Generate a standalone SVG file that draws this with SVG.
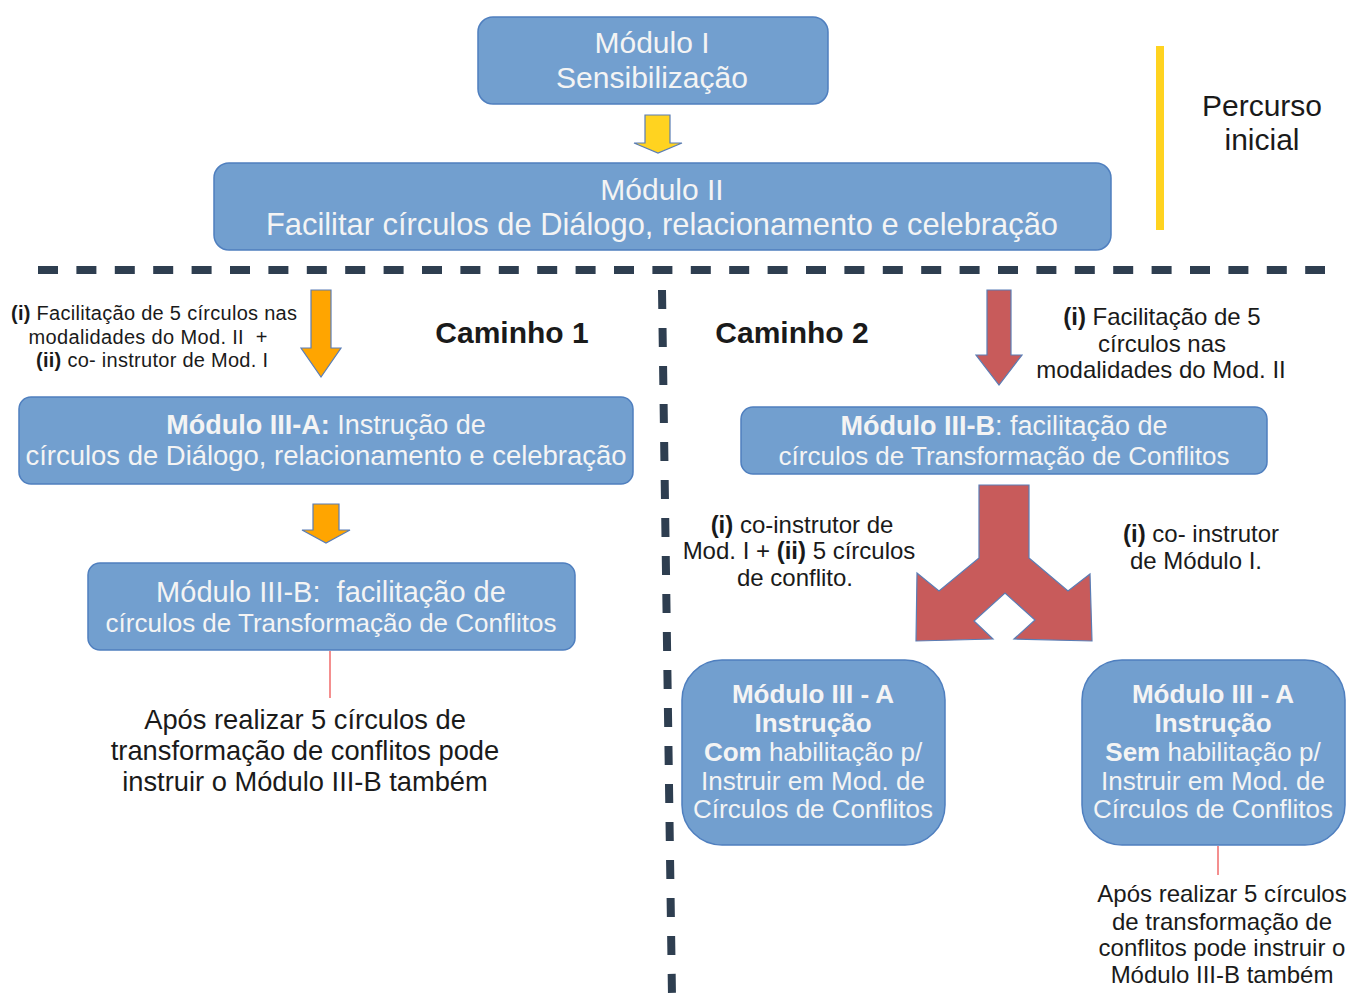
<svg xmlns="http://www.w3.org/2000/svg" width="1351" height="997" viewBox="0 0 1351 997">
<style>
.box{fill:#729fcf;stroke:#4f7fbf;stroke-width:1.5}
.wt{fill:#f4f4f4;font-family:"Liberation Sans",Arial,sans-serif;text-anchor:middle}
.dt{fill:#1a1a1a;font-family:"Liberation Sans",Arial,sans-serif;text-anchor:middle}
.b{font-weight:bold}
.arr{stroke:#5a7db5;stroke-width:1.2}
.dash{stroke:#2e3e50;fill:none}
.thin{stroke:#f06a6a;stroke-width:1.5;fill:none}
</style>
<rect width="1351" height="997" fill="#ffffff"/>

<g id="connectors">
  <line class="dash" x1="38" y1="270" x2="1325" y2="270" stroke-width="8" stroke-dasharray="20 18.4"/>
  <line class="dash" x1="662" y1="290" x2="672" y2="997" stroke-width="8" stroke-dasharray="19 19"/>
  <polygon class="arr" fill="#ffd320" points="645,115 670,115 670,143 682,143 658,153 634,143 645,143"/>
  <polygon class="arr" fill="#ffa500" points="311,290 331,290 331,348 341,348 321,377 301,348 311,348"/>
  <polygon class="arr" fill="#ffa500" points="313,504 339,504 339,530 350,530 326,543 302,530 313,530"/>
  <polygon class="arr" fill="#c85b5b" points="987,290 1011,290 1011,355 1022,355 999,385 976,355 987,355"/>
  <polygon class="arr" fill="#c85b5b" points="979,485 1029,485 1029,558 1068,591 1090,574 1092,641 1014,639 1035,620 1005,593 974,621 993,639 916,641 917,573 939,591 979,558"/>
  <line class="thin" x1="330" y1="651" x2="330" y2="698"/>
  <line class="thin" x1="1218" y1="846" x2="1218" y2="875"/>
</g>

<g id="percurso">
  <line x1="1160" y1="46" x2="1160" y2="230" stroke="#ffd320" stroke-width="8"/>
  <text class="dt" font-size="30" x="1262" y="116">Percurso</text>
  <text class="dt" font-size="30" x="1262" y="150">inicial</text>
</g>

<g id="modulo1">
  <rect class="box" x="478" y="17" width="350" height="87" rx="15"/>
  <text class="wt" font-size="30" x="652" y="53">Módulo I</text>
  <text class="wt" font-size="30" x="652" y="88">Sensibilização</text>
</g>

<g id="modulo2">
  <rect class="box" x="214" y="163" width="897" height="87" rx="15"/>
  <text class="wt" font-size="30" x="662" y="200">Módulo II</text>
  <text class="wt" font-size="30.5" x="662" y="235" textLength="792" lengthAdjust="spacingAndGlyphs">Facilitar círculos de Diálogo, relacionamento e celebração</text>
</g>

<g id="caminho1">
  <text class="dt b" font-size="30" x="512" y="343">Caminho 1</text>
</g>
<g id="caminho2">
  <text class="dt b" font-size="30" x="792" y="343">Caminho 2</text>
</g>

<g id="nota-esq">
  <text class="dt" font-size="20" x="154" y="320" textLength="286"><tspan class="b">(i)</tspan> Facilitação de 5 círculos nas</text>
  <text class="dt" font-size="20" x="148" y="344" textLength="239" xml:space="preserve">modalidades do Mod. II  +</text>
  <text class="dt" font-size="20" x="152" y="367" textLength="232"><tspan class="b">(ii)</tspan> co- instrutor de Mod. I</text>
</g>

<g id="modulo3a-esq">
  <rect class="box" x="19" y="397" width="614" height="87" rx="12"/>
  <text class="wt" font-size="27" x="326" y="434"><tspan class="b">Módulo III-A:</tspan> Instrução de</text>
  <text class="wt" font-size="27.2" x="326" y="465" textLength="601" lengthAdjust="spacingAndGlyphs">círculos de Diálogo, relacionamento e celebração</text>
</g>

<g id="modulo3b-esq">
  <rect class="box" x="88" y="563" width="487" height="87" rx="12"/>
  <text class="wt" font-size="29" x="331" y="602" xml:space="preserve">Módulo III-B:  facilitação de</text>
  <text class="wt" font-size="26" x="331" y="632">círculos de Transformação de Conflitos</text>
</g>

<g id="nota-3b-esq">
  <text class="dt" font-size="27.3" x="305" y="729">Após realizar 5 círculos de</text>
  <text class="dt" font-size="27.3" x="305" y="760">transformação de conflitos pode</text>
  <text class="dt" font-size="27.3" x="305" y="791">instruir o Módulo III-B também</text>
</g>

<g id="nota-dir">
  <text class="dt" font-size="24" x="1162" y="325"><tspan class="b">(i)</tspan> Facilitação de 5</text>
  <text class="dt" font-size="24" x="1162" y="352">círculos nas</text>
  <text class="dt" font-size="24" x="1161" y="378">modalidades do Mod. II</text>
</g>

<g id="modulo3b-dir">
  <rect class="box" x="741" y="407" width="526" height="67" rx="12"/>
  <text class="wt" font-size="27" x="1004" y="435"><tspan class="b">Módulo III-B</tspan>: facilitação de</text>
  <text class="wt" font-size="26" x="1004" y="465">círculos de Transformação de Conflitos</text>
</g>

<g id="nota-com">
  <text class="dt" font-size="24" x="802" y="533"><tspan class="b">(i)</tspan> co-instrutor de</text>
  <text class="dt" font-size="24" x="799" y="559">Mod. I + <tspan class="b">(ii)</tspan> 5 círculos</text>
  <text class="dt" font-size="24" x="795" y="586">de conflito.</text>
</g>

<g id="nota-sem">
  <text class="dt" font-size="24" x="1201" y="542"><tspan class="b">(i)</tspan> co- instrutor</text>
  <text class="dt" font-size="24" x="1196" y="569">de Módulo I.</text>
</g>

<g id="modulo3a-com">
  <rect class="box" x="682" y="660" width="263" height="185" rx="40"/>
  <text class="wt b" font-size="26" x="813" y="703">Módulo III - A</text>
  <text class="wt b" font-size="26" x="813" y="732">Instrução</text>
  <text class="wt" font-size="26" x="813" y="761"><tspan class="b">Com</tspan> habilitação p/</text>
  <text class="wt" font-size="26" x="813" y="790">Instruir em Mod. de</text>
  <text class="wt" font-size="26" x="813" y="818">Círculos de Conflitos</text>
</g>

<g id="modulo3a-sem">
  <rect class="box" x="1082" y="660" width="263" height="185" rx="40"/>
  <text class="wt b" font-size="26" x="1213" y="703">Módulo III - A</text>
  <text class="wt b" font-size="26" x="1213" y="732">Instrução</text>
  <text class="wt" font-size="26" x="1213" y="761"><tspan class="b">Sem</tspan> habilitação p/</text>
  <text class="wt" font-size="26" x="1213" y="790">Instruir em Mod. de</text>
  <text class="wt" font-size="26" x="1213" y="818">Círculos de Conflitos</text>
</g>

<g id="nota-3b-dir">
  <text class="dt" font-size="24" x="1222" y="902">Após realizar 5 círculos</text>
  <text class="dt" font-size="24" x="1222" y="930">de transformação de</text>
  <text class="dt" font-size="24" x="1222" y="956">conflitos pode instruir o</text>
  <text class="dt" font-size="24" x="1222" y="983">Módulo III-B também</text>
</g>
</svg>
